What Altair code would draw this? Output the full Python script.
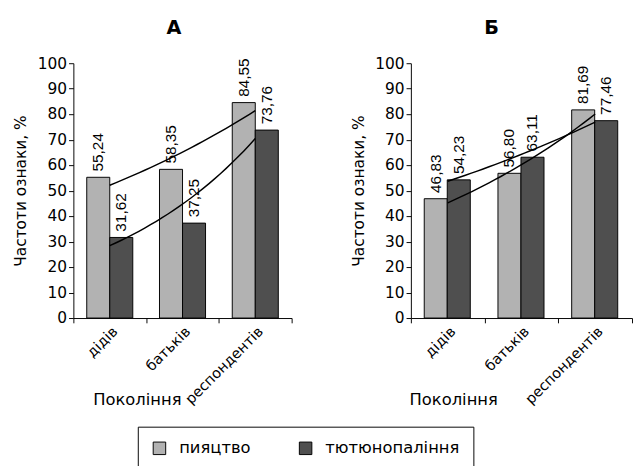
import altair as alt
import pandas as pd

generations = ["дідів", "батьків", "респондентів"]
series_names = ["пияцтво", "тютюнопаління"]
a_drink = [55.24, 58.35, 84.55]
a_smoke = [31.62, 37.25, 73.76]
b_drink = [46.83, 56.80, 81.69]
b_smoke = [54.23, 63.11, 77.46]
panel_titles = ["А", "Б"]
colors = ["#b2b2b2", "#4f4f4f"]

AX_FONT = "DejaVu Sans"


def make_df(drink, smoke):
    rows = []
    for g, v in zip(generations, drink):
        rows.append({"gen": g, "series": series_names[0], "v": v})
    for g, v in zip(generations, smoke):
        rows.append({"gen": g, "series": series_names[1], "v": v})
    return pd.DataFrame(rows)


def panel(df, title, width, title_dx, xtitle_x):
    base = alt.Chart(df).transform_calculate(
        label="replace(format(datum.v, '.2f'), '.', ',')"
    )
    yenc = alt.Y(
        "v:Q",
        scale=alt.Scale(domain=[0, 100], nice=False),
        axis=alt.Axis(
            values=list(range(0, 101, 10)),
            title="Частоти ознаки, %",
            grid=False,
            titleFontSize=16,
            titlePadding=9,
            labelFontSize=16,
            labelPadding=2,
        ),
    )
    xenc = alt.X(
        "gen:N",
        sort=generations,
        scale=alt.Scale(paddingInner=0, paddingOuter=0),
        axis=alt.Axis(
            title="Покоління",
            labelAngle=-45,
            labelAlign="right",
            labelBaseline="top",
            labelFontSize=15,
            labelPadding=1,
            tickBand="extent",
            titleFontSize=17,
            titleX=xtitle_x,
            titleY=90,
            titleBaseline="alphabetic",
            titleAlign="center",
        ),
    )
    xoff = alt.XOffset(
        "series:N",
        sort=series_names,
        scale=alt.Scale(paddingOuter=0.58, paddingInner=0),
    )
    color = alt.Color(
        "series:N",
        sort=series_names,
        scale=alt.Scale(domain=series_names, range=colors),
        legend=alt.Legend(
            title=None,
            orient="none",
            direction="horizontal",
            legendX=67,
            legendY=378,
            strokeColor="black",
            padding=14,
            symbolType="square",
            symbolSize=169,
            symbolStrokeColor="black",
            symbolStrokeWidth=1,
            symbolOpacity=1,
            labelFont=AX_FONT,
            labelFontSize=17,
            labelColor="black",
            labelOffset=12,
            columnPadding=48,
        ),
    )
    bars = base.mark_bar(stroke="black", strokeWidth=1).encode(
        x=xenc, xOffset=xoff, y=yenc, color=color
    )
    labels = base.mark_text(
        angle=270, align="left", baseline="middle", dx=6,
        font="Liberation Sans", fontSize=16, color="black"
    ).encode(x=xenc, xOffset=xoff, y=yenc, text="label:N")
    trend = base.transform_calculate(
        i="indexof(" + str(generations) + ", datum.gen) + 1"
    ).transform_regression(
        "i", "v", method="exp", groupby=["series"]
    ).mark_line(color="black", strokeWidth=1.5).encode(
        x=alt.X("i:Q", scale=alt.Scale(domain=[0.5, 3.5], nice=False, zero=False), axis=None),
        y=yenc,
        detail="series:N",
    )
    inner = alt.layer(bars, labels)
    return alt.layer(inner, trend).resolve_scale(x="independent").properties(
        width=width,
        height=265,
        title=alt.Title(title, fontSize=20, fontWeight="bold", font=AX_FONT,
                        dx=title_dx, offset=18, color="black"),
    )


pa = panel(make_df(a_drink, a_smoke), panel_titles[0], 227, -9, 66)
pb = panel(make_df(b_drink, b_smoke), panel_titles[1], 230, -31, 44)

chart = alt.hconcat(pa, pb, spacing=60).properties(
    padding={"left": 5, "top": 2, "right": 0, "bottom": 0}
).configure_view(stroke=None).configure_axis(
    domainColor="black",
    tickColor="black",
    labelColor="black",
    titleColor="black",
    labelFont=AX_FONT,
    titleFont=AX_FONT,
    titleFontWeight="normal",
    tickSize=5,
    domainWidth=1,
    tickWidth=1,
)

chart.save("out.html", embed_options={"renderer": "svg", "actions": False})
